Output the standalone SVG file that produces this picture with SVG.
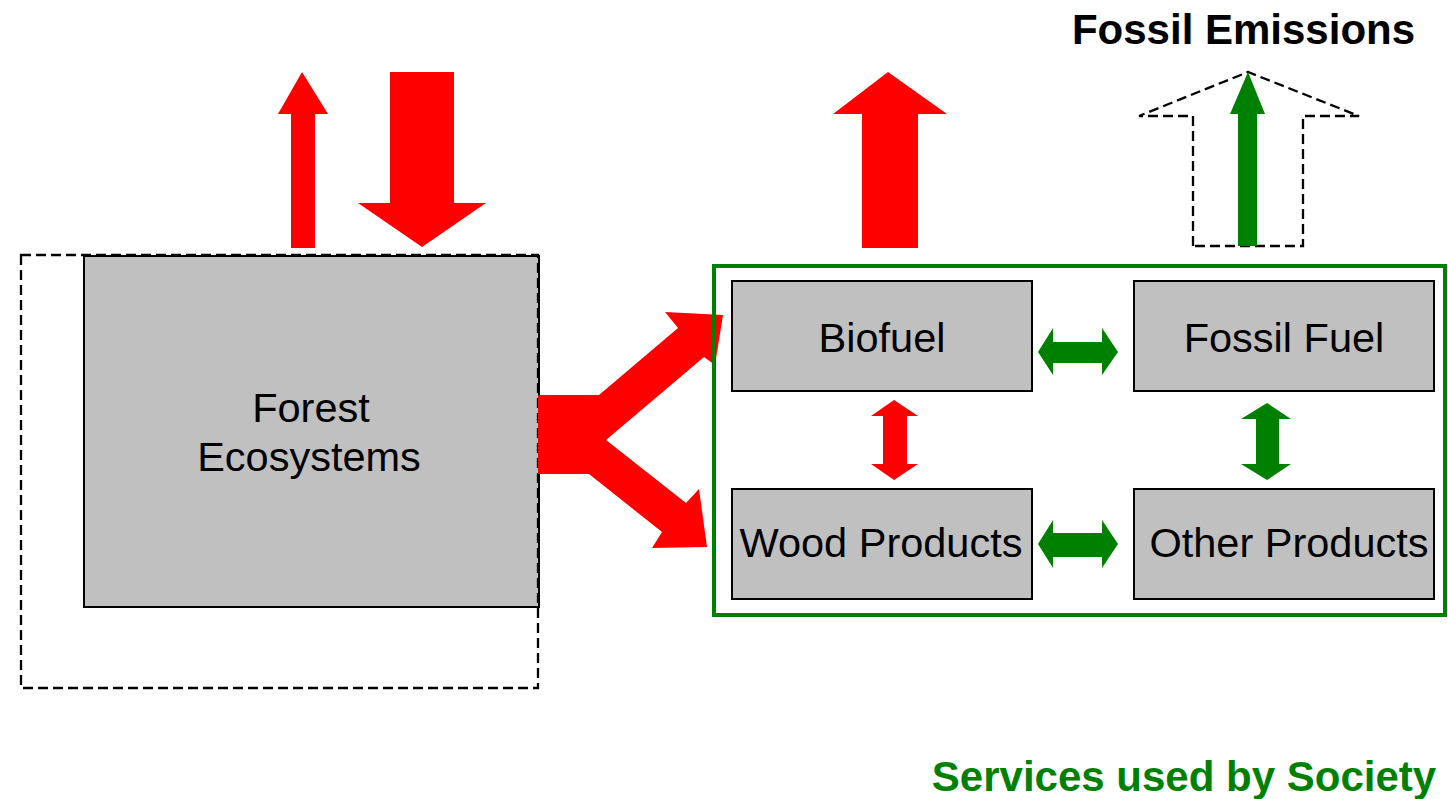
<svg xmlns="http://www.w3.org/2000/svg" width="1448" height="799" viewBox="0 0 1448 799">
<style>
.box{fill:#C0C0C0;stroke:#000;stroke-width:2}
.lbl{font-family:"Liberation Sans",Arial,sans-serif;font-size:41.5px;fill:#000;text-anchor:middle}
.title{font-family:"Liberation Sans",Arial,sans-serif;font-weight:bold;font-size:42px}
.red{fill:#FF0000}
.grn{fill:#008000}
.dash{fill:none;stroke:#000;stroke-width:2.3;stroke-dasharray:10,5}
</style>
<rect width="1448" height="799" fill="#fff"/>
<g id="forest">
<rect class="box" x="84" y="256" width="455" height="351"/>
<rect class="dash" x="21" y="255" width="517" height="433"/>
<text class="lbl" x="311" y="422">Forest</text>
<text class="lbl" x="309" y="471">Ecosystems</text>
</g>
<g id="connectors">
<polygon class="red" points="291,248 291,114 278,114 302,72 328,114 315,114 315,248"/>
<polygon class="red" points="390,72 454,72 454,203 486,203 422,247 358,203 390,203"/>
<polygon class="red" points="862,248 862,114 833,114 888,72 947,114 918,114 918,248"/>
<polygon class="red" points="538,395 599,395 678,328 665,312 723,315 715,365 704,357 606,440 686,503 699,489 707,547 652,548 662,532 589,474 538,474"/>
<polygon class="red" points="883,416 871,416 894,400 918,416 907,416 907,464 918,464 894,480 871,464 883,464"/>
<polygon class="grn" points="1053,342 1053,328 1038,352 1053,375 1053,363 1102,363 1102,375 1118,352 1102,328 1102,342"/>
<polygon class="grn" points="1053,533 1053,520 1038,544 1053,568 1053,557 1102,557 1102,568 1118,544 1102,520 1102,533"/>
<polygon class="grn" points="1256,419 1241,419 1267,403 1291,419 1279,419 1279,464 1291,464 1267,480 1241,464 1256,464"/>
<polygon class="dash" points="1193,246 1193,116 1139,116 1248,72 1359,116 1303,116 1303,246"/>
<polygon class="grn" points="1238,246 1238,114 1230,114 1248,72 1265,114 1257,114 1257,246"/>
</g>
<g id="society">
<rect x="714" y="266" width="731" height="349" fill="none" stroke="#008000" stroke-width="4"/>
</g>
<g id="biofuel">
<rect class="box" x="732" y="281" width="300" height="110"/>
<text class="lbl" x="882" y="352">Biofuel</text>
</g>
<g id="fossilfuel">
<rect class="box" x="1134" y="281" width="300" height="110"/>
<text class="lbl" x="1284" y="352">Fossil Fuel</text>
</g>
<g id="woodproducts">
<rect class="box" x="732" y="489" width="300" height="110"/>
<text class="lbl" x="881" y="557">Wood Products</text>
</g>
<g id="otherproducts">
<rect class="box" x="1134" y="489" width="300" height="110"/>
<text class="lbl" x="1289" y="557">Other Products</text>
</g>
<g id="labels">
<text class="title" x="1243.5" y="44" text-anchor="middle" fill="#000">Fossil Emissions</text>
<text class="title" x="1184" y="791" text-anchor="middle" fill="#008000" font-size="43.5px">Services used by Society</text>
</g>
</svg>
